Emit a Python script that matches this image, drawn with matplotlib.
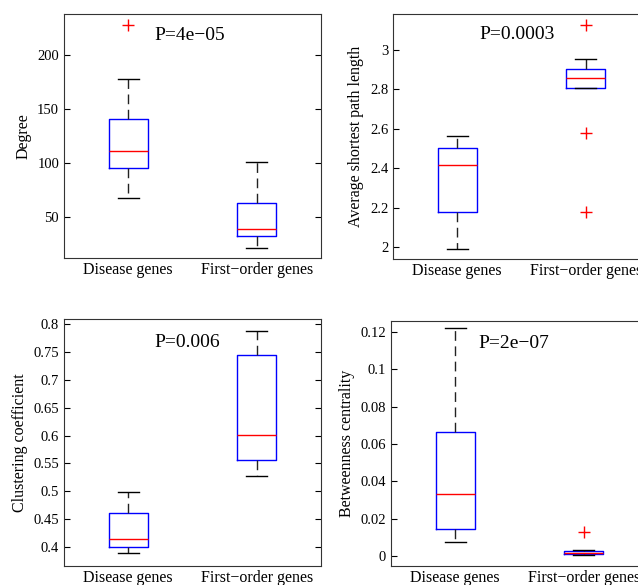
import matplotlib.pyplot as plt

# five-number summaries: (whisker low, q1, median, q3, whisker high)
groups = ['Disease genes', 'First\u2212order genes']

degree_stats = [(68, 95, 111, 141, 178), (21, 32, 39, 63, 101)]
degree_fliers = [[228], []]

path_stats = [(1.99, 2.18, 2.415, 2.50, 2.565), (2.805, 2.805, 2.855, 2.90, 2.95)]
path_fliers = [[], [3.125, 2.58, 2.18]]

clust_stats = [(0.39, 0.40, 0.415, 0.461, 0.499), (0.527, 0.556, 0.601, 0.745, 0.787)]
clust_fliers = [[], []]

betw_stats = [(0.0075, 0.0145, 0.0333, 0.0665, 0.122), (0.0005, 0.0012, 0.0018, 0.0028, 0.0033)]
betw_fliers = [[], [0.013]]

ylabels = ['Degree', 'Average shortest path length', 'Clustering coefficient', 'Betweenness centrality']
pvalues = ['P=4e\u221205', 'P=0.0003', 'P=0.006', 'P=2e\u221207']
yticks = [[50, 100, 150, 200], [2, 2.2, 2.4, 2.6, 2.8, 3],
          [0.4, 0.45, 0.5, 0.55, 0.6, 0.65, 0.7, 0.75, 0.8],
          [0, 0.02, 0.04, 0.06, 0.08, 0.1, 0.12]]
yticklabels = [['50', '100', '150', '200'], ['2', '2.2', '2.4', '2.6', '2.8', '3'],
               ['0.4', '0.45', '0.5', '0.55', '0.6', '0.65', '0.7', '0.75', '0.8'],
               ['0', '0.02', '0.04', '0.06', '0.08', '0.1', '0.12']]
ylims = [(12, 238), (1.94, 3.18), (0.366, 0.809), (-0.0054, 0.1259)]
ptext_pos = [(1.2, 218), (1.17, 3.076), (1.2, 0.766), (1.18, 0.114)]

plt.rcParams['font.family'] = ['Liberation Serif', 'DejaVu Serif']

W, H = 638, 585
fig = plt.figure(figsize=(W / 100, H / 100), dpi=100)

# axes boxes in pixels: left, top, right, bottom
boxes = [(64, 14, 321, 258), (393, 14, 650, 259), (64, 319, 321, 566), (391, 321, 648, 566)]

all_stats = [degree_stats, path_stats, clust_stats, betw_stats]
all_fliers = [degree_fliers, path_fliers, clust_fliers, betw_fliers]

for i in range(4):
    l, t, r, b = boxes[i]
    ax = fig.add_axes([l / W, 1 - b / H, (r - l) / W, (b - t) / H])
    stats = []
    for (lo, q1, med, q3, hi), fl in zip(all_stats[i], all_fliers[i]):
        stats.append(dict(whislo=lo, q1=q1, med=med, q3=q3, whishi=hi, fliers=fl))
    ax.bxp(stats, positions=[1, 2], widths=0.3, showfliers=True,
           boxprops=dict(color='blue', linewidth=1),
           medianprops=dict(color='red', linewidth=1),
           whiskerprops=dict(color='#222222', linestyle=(0, (7, 4)), linewidth=1),
           capprops=dict(color='black', linewidth=1),
           flierprops=dict(marker='+', markeredgecolor='red', markersize=8, linestyle='none'),
           capwidths=0.16)
    ax.set_xlim(0.5, 2.5)
    ax.set_ylim(*ylims[i])
    ax.set_xticks([1, 2])
    ax.set_xticklabels(groups, fontsize=11.5)
    ax.set_yticks(yticks[i])
    ax.set_yticklabels(yticklabels[i], fontsize=10.5)
    ax.tick_params(axis='y', direction='in', right=True, length=4)
    ax.tick_params(axis='x', length=0, pad=3)
    ax.set_ylabel(ylabels[i], fontsize=11.5)
    for s in ax.spines.values():
        s.set_color('#333333')
    px, py = ptext_pos[i]
    ax.text(px, py, pvalues[i], fontsize=14, va='center', ha='left')

fig.savefig('out.png', dpi=100)
